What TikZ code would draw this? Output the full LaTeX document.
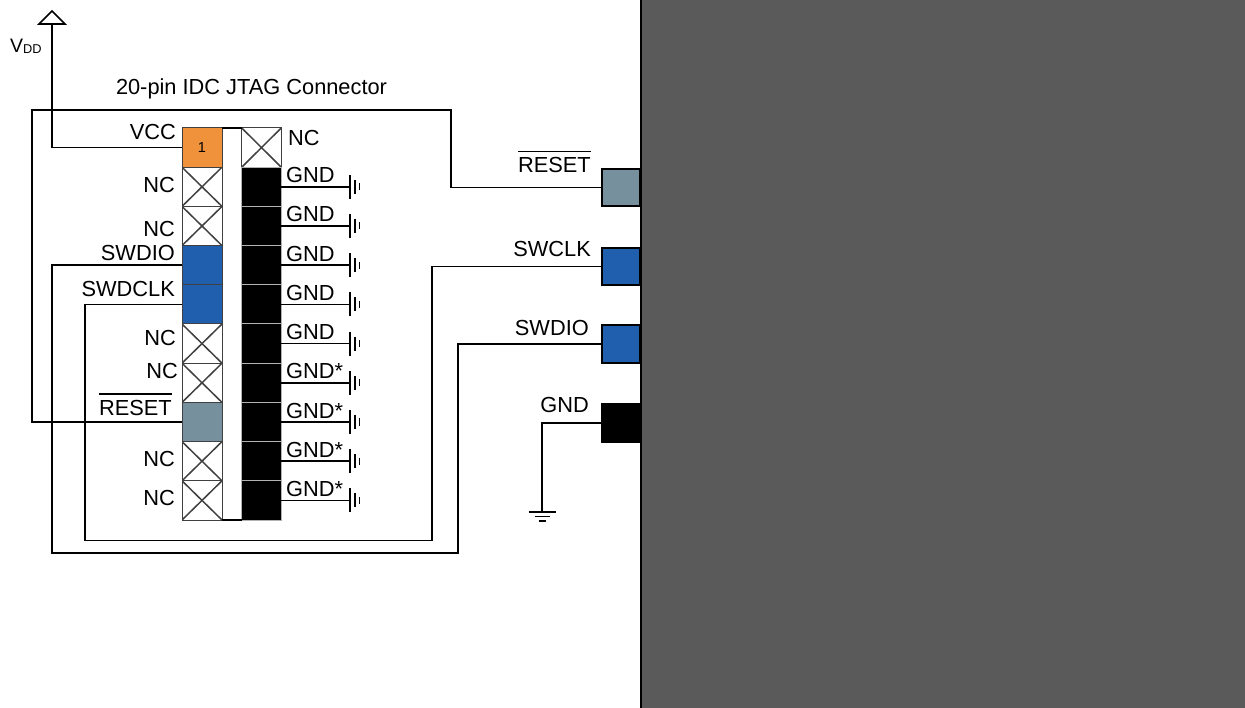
\documentclass[tikz,border=0pt]{standalone}
\usepackage{fontspec}
\setmainfont{Liberation Sans}
\usetikzlibrary{calc}
\definecolor{pinorange}{HTML}{F0913B}
\definecolor{pinblue}{HTML}{1F5FAD}
\definecolor{pingray}{HTML}{76909D}
\definecolor{panelgray}{HTML}{5A5A5A}
\newcommand\ovtxt[1]{\sbox0{#1}\rlap{\rule[\dimexpr\ht0+5pt\relax]{\wd0}{1.4pt}}#1}
\begin{document}
\begin{tikzpicture}[x=1pt,y=-1pt,
  font=\fontsize{21.8}{24}\selectfont,
  wire/.style={line width=1.7pt},
  gline/.style={line width=1.8pt},
  cell/.style={minimum width=40pt, minimum height=39.2pt, inner sep=0pt, outer sep=0pt, draw=black!75, line width=1pt},
  rcell/.style={cell, minimum width=39.5pt},
  nccell/.style={fill=white, path picture={\draw[line width=1.5pt] (path picture bounding box.north west) -- (path picture bounding box.south east) (path picture bounding box.north east) -- (path picture bounding box.south west);}},
  gndcell/.style={rcell, fill=black, draw=black!30},
  chippin/.style={minimum width=38.5pt, minimum height=37.5pt, inner sep=0pt, draw=black, line width=1.8pt},
  lbl/.style={inner sep=0pt, anchor=base east},
  rlbl/.style={inner sep=0pt, anchor=base west}]
\useasboundingbox (0,0) rectangle (1245,708);

% right panel (target device)
\fill[panelgray] (641,0) rectangle (1245,708);
\draw[line width=2.2pt] (641,0) -- (641,708);

% title
\node[inner sep=0pt, anchor=base] (title) at (251.5,95) {20-pin IDC JTAG Connector};

% connector left column
\node[cell, fill=pinorange] (L1) at (202,147.6) {\fontsize{14.5}{14.5}\selectfont 1};
\node[cell, nccell] (L2) at (202,186.8) {};
\node[cell, nccell] (L3) at (202,226.0) {};
\node[cell, fill=pinblue] (L4) at (202,265.2) {};
\node[cell, fill=pinblue] (L5) at (202,304.4) {};
\node[cell, nccell] (L6) at (202,343.6) {};
\node[cell, nccell] (L7) at (202,382.8) {};
\node[cell, fill=pingray] (L8) at (202,422.0) {};
\node[cell, nccell] (L9) at (202,461.2) {};
\node[cell, nccell] (L10) at (202,500.4) {};

% connector right column
\node[rcell, nccell] (R1) at (261.5,147.6) {};
\foreach \i/\y in {2/186.8,3/226.0,4/265.2,5/304.4,6/343.6,7/382.8,8/422.0,9/461.2,10/500.4}{
  \node[gndcell] (R\i) at (261.5,\y) {};
}
\draw[line width=1.3pt] (L1.north east) -- (R1.north west);
\draw[line width=1.3pt] (L10.south east) -- (R10.south west);

% left labels
\node[lbl] (tVCC) at (176,140) {VCC};
\node[lbl] (tNC2) at (175,193) {NC};
\node[lbl] (tNC3) at (175,237) {NC};
\node[lbl] (tSWDIO) at (175,261) {SWDIO};
\node[lbl] (tSWDCLK) at (175,297) {SWDCLK};
\node[lbl] (tNC6) at (176,346) {NC};
\node[lbl] (tNC7) at (178,379) {NC};
\node[lbl] (tRST) at (172,415) {\ovtxt{RESET}};
\node[lbl] (tNC9) at (175,466) {NC};
\node[lbl] (tNC10) at (175,505) {NC};

% right labels and ground symbols
\node[rlbl] (tNC1) at (288,146) {NC};
\foreach \i/\y/\t in {2/186.8/GND,3/226.0/GND,4/265.2/GND,5/304.4/GND,6/343.6/GND,7/382.8/GND*,8/422.0/GND*,9/461.2/GND*,10/500.4/GND*}{
  \node[rlbl] (tG\i) at (286,\y-4) {\t};
  \coordinate (g\i) at (350,\y);
  \draw[wire] (R\i.east) -- (g\i);
  \draw[gline] ($(g\i)+(0,-12)$) -- ($(g\i)+(0,12)$)
               ($(g\i)+(5,-7)$) -- ($(g\i)+(5,7)$)
               ($(g\i)+(9.5,-3.5)$) -- ($(g\i)+(9.5,3.5)$);
}

% VDD
\coordinate (vdd) at (52,24);
\draw[wire] (L1.west) -| (vdd);
\draw[wire, line join=miter] ($(vdd)+(-13,0)$) -- ($(vdd)+(0,-13)$) -- ($(vdd)+(13,0)$) -- cycle;
\node[inner sep=0pt, anchor=base west] (tVDD) at (10,53) {\fontsize{19.5}{19.5}\selectfont V\raisebox{-1pt}{\fontsize{12.8}{12.8}\selectfont DD}};

% target device pins
\node[chippin, fill=pingray] (Prst) at (621,187.5) {};
\node[chippin, fill=pinblue] (Pclk) at (621,266.5) {};
\node[chippin, fill=pinblue] (Pdio) at (621,344) {};
\node[minimum width=40pt, minimum height=39pt, inner sep=0pt, fill=black] (Pgnd) at (621,423) {};

\node[lbl] (cRST) at (591,172.7) {\ovtxt{RESET}};
\node[lbl] (cCLK) at (591,257) {SWCLK};
\node[lbl] (cDIO) at (589,336) {SWDIO};
\node[lbl] (cGND) at (589,413) {GND};

% wires
\coordinate (rA) at (32,110);
\coordinate (rB) at (451,110);
\draw[wire] (L8.west) -| (rA) -- (rB) |- (Prst.west);

\coordinate (kA) at (85,540.5);
\coordinate (kB) at (432,540.5);
\draw[wire] (L5.west) -| (kA) -- (kB) |- (Pclk.west);

\coordinate (sA) at (52,553);
\coordinate (sB) at (458,553);
\draw[wire] (L4.west) -| (sA) -- (sB) |- (Pdio.west);

\coordinate (gnd0) at (542,512);
\draw[wire] (Pgnd.west) -| (gnd0);
\draw[gline] ($(gnd0)+(-13.5,0)$) -- ($(gnd0)+(13.5,0)$)
             ($(gnd0)+(-7.5,4.5)$) -- ($(gnd0)+(7.5,4.5)$)
             ($(gnd0)+(-3.5,9)$) -- ($(gnd0)+(3.5,9)$);
\end{tikzpicture}
\end{document}
